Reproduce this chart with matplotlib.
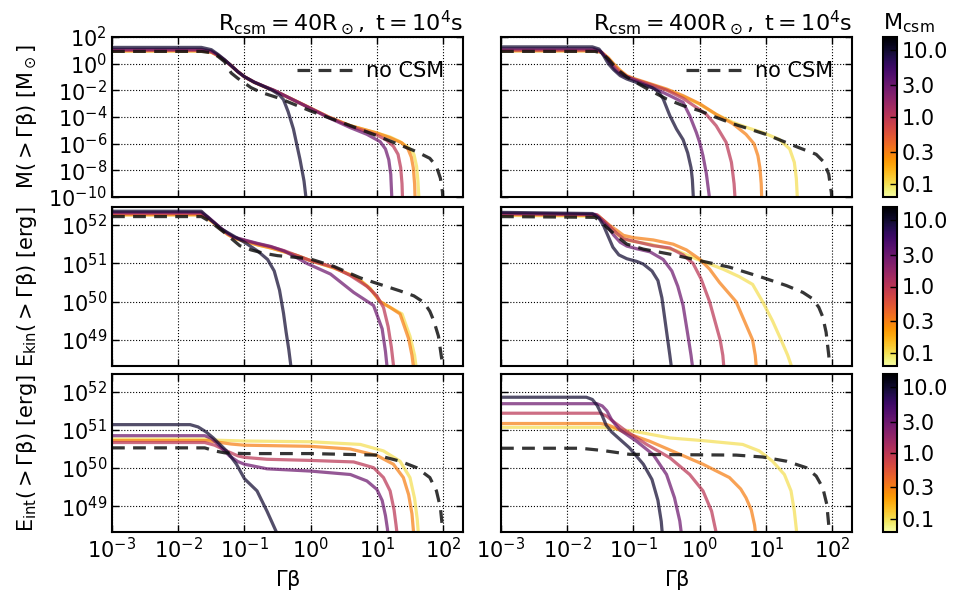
import numpy as np
import matplotlib
matplotlib.use('Agg')
import matplotlib.pyplot as plt
from matplotlib.colors import LogNorm
from matplotlib.cm import ScalarMappable
from matplotlib.ticker import NullLocator

plt.rcParams['font.family'] = ['DejaVu Sans']
plt.rcParams['mathtext.default'] = 'regular'
plt.rcParams['font.size'] = 15

# CSM masses (Msun), same order as the curve lists below
mcsm = [0.1, 0.3, 1.0, 3.0, 10.0]
cbar_ticks = [0.1, 0.3, 1.0, 3.0, 10.0]
cbar_labels = ['0.1', '0.3', '1.0', '3.0', '10.0']
x_ticks = [1e-3, 1e-2, 1e-1, 1e0, 1e1, 1e2]
m_ticks = [1e-10, 1e-8, 1e-6, 1e-4, 1e-2, 1e0, 1e2]
e_ticks = [1e49, 1e50, 1e51, 1e52]

titles = [r'$R_{csm}=40R_\odot,\ t=10^4s$', r'$R_{csm}=400R_\odot,\ t=10^4s$']
ylabels = [r'$M(>\Gamma\beta)\ [M_\odot]$', r'$E_{kin}(>\Gamma\beta)\ [erg]$',
           r'$E_{int}(>\Gamma\beta)\ [erg]$']

# all curves as (log10 Gamma*beta, log10 value)
# ---- M(>Gb), R = 40 Rsun
mass40_nocsm = [(-3, 0.92), (-1.65, 0.92), (-1.5, 0.82), (-1.4, 0.55), (-1.3, 0.15), (-1.2, -0.7),
                (-1.1, -1.1), (-1.0, -1.45), (-0.9, -1.8), (-0.75, -2.15), (-0.5, -2.55), (-0.25, -3.05),
                (0.0, -3.55), (0.27, -4.05), (0.6, -4.65), (1.0, -5.4), (1.35, -6.1), (1.6, -6.6),
                (1.8, -7.1), (1.9, -7.7), (1.96, -8.6), (1.99, -9.6), (2.0, -10.5)]
mass40 = [
    [(-3, 0.94), (-1.65, 0.94), (-1.5, 0.85), (-1.4, 0.6), (-1.3, 0.25), (-1.2, -0.15), (-1.1, -0.6),
     (-1.0, -0.98), (-0.85, -1.4), (-0.7, -1.72), (-0.55, -2.02), (-0.35, -2.5), (-0.1, -3.1),
     (0.27, -4.0), (0.6, -4.65), (1.0, -5.2), (1.2, -5.5), (1.35, -5.85), (1.48, -6.3), (1.56, -6.8),
     (1.6, -7.7), (1.62, -8.8), (1.64, -10.5)],
    [(-3, 0.96), (-1.65, 0.96), (-1.5, 0.86), (-1.4, 0.6), (-1.3, 0.25), (-1.2, -0.15), (-1.1, -0.6),
     (-1.0, -0.98), (-0.85, -1.4), (-0.7, -1.72), (-0.55, -2.02), (-0.35, -2.5), (-0.1, -3.1),
     (0.27, -4.0), (0.6, -4.65), (1.0, -5.2), (1.2, -5.55), (1.38, -5.95), (1.47, -6.4), (1.52, -7.0),
     (1.55, -7.8), (1.57, -9.0), (1.58, -10.5)],
    [(-3, 1.0), (-1.65, 1.0), (-1.5, 0.88), (-1.4, 0.62), (-1.3, 0.26), (-1.2, -0.15), (-1.1, -0.6),
     (-1.0, -0.98), (-0.85, -1.4), (-0.7, -1.72), (-0.55, -2.02), (-0.35, -2.5), (-0.1, -3.1),
     (0.27, -4.0), (0.6, -4.7), (1.0, -5.35), (1.15, -5.75), (1.25, -6.2), (1.32, -6.8), (1.36, -7.8),
     (1.38, -9.0), (1.39, -10.5)],
    [(-3, 1.08), (-1.65, 1.08), (-1.5, 0.95), (-1.4, 0.65), (-1.3, 0.27), (-1.2, -0.15), (-1.1, -0.6),
     (-1.0, -0.98), (-0.85, -1.38), (-0.7, -1.7), (-0.55, -2.0), (-0.35, -2.5), (-0.1, -3.12),
     (0.27, -4.05), (0.6, -4.8), (0.85, -5.3), (1.05, -5.85), (1.13, -6.4), (1.18, -7.2),
     (1.21, -8.3), (1.23, -10.5)],
    [(-3, 1.22), (-1.65, 1.22), (-1.5, 1.05), (-1.4, 0.7), (-1.3, 0.3), (-1.2, -0.15), (-1.1, -0.6),
     (-1.0, -0.98), (-0.85, -1.4), (-0.7, -1.72), (-0.58, -2.0), (-0.47, -2.35), (-0.41, -2.7),
     (-0.34, -3.6), (-0.26, -4.9), (-0.16, -7.2), (-0.1, -8.8), (-0.06, -10.5)],
]

# ---- M(>Gb), R = 400 Rsun
mass400_nocsm = [(-3, 0.92), (-1.58, 0.92), (-1.48, 0.8), (-1.38, 0.35), (-1.3, -0.1), (-1.2, -0.6),
                 (-1.1, -1.0), (-1.0, -1.3), (-0.75, -2.0), (-0.5, -2.65), (-0.25, -3.15), (0.0, -3.53),
                 (0.25, -4.03), (0.5, -4.5), (0.75, -4.9), (1.0, -5.3), (1.25, -5.8), (1.5, -6.3),
                 (1.76, -6.8), (1.88, -7.4), (1.95, -8.3), (1.99, -9.7), (2.0, -10.5)]
mass400 = [
    [(-3, 0.95), (-1.58, 0.95), (-1.48, 0.83), (-1.38, 0.4), (-1.3, -0.05), (-1.2, -0.55),
     (-1.1, -0.95), (-1.0, -1.15), (-0.75, -1.55), (-0.5, -1.95), (-0.25, -2.45), (0.0, -3.05),
     (0.25, -3.8), (0.5, -4.4), (0.75, -4.85), (0.95, -5.16), (1.2, -5.67), (1.36, -6.4),
     (1.43, -7.4), (1.46, -8.6), (1.48, -10.5)],
    [(-3, 0.97), (-1.58, 0.97), (-1.48, 0.85), (-1.38, 0.45), (-1.3, 0.0), (-1.2, -0.5),
     (-1.1, -0.9), (-1.0, -1.1), (-0.75, -1.5), (-0.5, -1.9), (-0.25, -2.4), (0.0, -3.0),
     (0.25, -3.8), (0.5, -4.5), (0.7, -5.3), (0.82, -6.0), (0.88, -6.9), (0.91, -7.8),
     (0.93, -9.0), (0.94, -10.5)],
    [(-3, 1.02), (-1.58, 1.02), (-1.48, 0.85), (-1.4, 0.45), (-1.32, -0.05), (-1.22, -0.55),
     (-1.1, -0.95), (-1.0, -1.15), (-0.75, -1.55), (-0.5, -1.98), (-0.25, -2.6), (0.0, -3.45),
     (0.1, -3.8), (0.25, -4.66), (0.4, -5.9), (0.48, -7.4), (0.52, -9.0), (0.54, -10.5)],
    [(-3, 1.12), (-1.6, 1.12), (-1.5, 0.95), (-1.42, 0.5), (-1.35, 0.0), (-1.27, -0.5),
     (-1.18, -0.85), (-1.08, -1.05), (-1.0, -1.2), (-0.8, -1.6), (-0.6, -2.05), (-0.45, -2.4),
     (-0.25, -2.9), (-0.15, -3.9), (-0.05, -5.16), (0.0, -5.9), (0.05, -6.9), (0.1, -8.2),
     (0.16, -10.5)],
    [(-3, 1.26), (-1.62, 1.26), (-1.52, 1.1), (-1.45, 0.6), (-1.38, 0.0), (-1.3, -0.45),
     (-1.2, -0.9), (-1.1, -1.15), (-1.0, -1.33), (-0.85, -1.6), (-0.72, -1.8), (-0.62, -2.1),
     (-0.55, -2.65), (-0.45, -3.9), (-0.35, -4.9), (-0.25, -5.7), (-0.18, -6.7), (-0.13, -7.8),
     (-0.11, -8.7), (-0.09, -10.5)],
]

# ---- E_kin(>Gb), R = 40 Rsun
ekin40_nocsm = [(-3, 52.22), (-1.65, 52.22), (-1.55, 52.12), (-1.45, 52.0), (-1.3, 51.8), (-1.2, 51.65),
                (-1.07, 51.46), (-0.9, 51.35), (-0.7, 51.26), (-0.5, 51.2), (-0.25, 51.16), (0.0, 51.11),
                (0.35, 50.92), (0.75, 50.62), (1.1, 50.42), (1.35, 50.28), (1.56, 50.15), (1.71, 49.98),
                (1.8, 49.75), (1.86, 49.5), (1.93, 49.1), (1.98, 48.5), (2.0, 48.2)]
ekin40 = [
    [(-3, 52.26), (-1.65, 52.26), (-1.55, 52.16), (-1.45, 52.03), (-1.35, 51.88), (-1.25, 51.75),
     (-1.15, 51.65), (-1.0, 51.58), (-0.8, 51.48), (-0.6, 51.4), (-0.4, 51.3), (-0.2, 51.2),
     (0.0, 51.07), (0.35, 50.88), (0.6, 50.7), (0.75, 50.56), (0.9, 50.35), (1.05, 50.0),
     (1.2, 49.85), (1.38, 49.68), (1.5, 49.1), (1.57, 48.6), (1.6, 48.2)],
    [(-3, 52.27), (-1.65, 52.27), (-1.55, 52.17), (-1.45, 52.04), (-1.35, 51.88), (-1.25, 51.75),
     (-1.15, 51.65), (-1.0, 51.58), (-0.8, 51.48), (-0.6, 51.4), (-0.4, 51.3), (-0.2, 51.2),
     (0.0, 51.07), (0.35, 50.88), (0.6, 50.7), (0.75, 50.55), (0.9, 50.33), (1.05, 50.0),
     (1.2, 49.85), (1.35, 49.68), (1.48, 49.03), (1.53, 48.6), (1.56, 48.2)],
    [(-3, 52.3), (-1.65, 52.3), (-1.55, 52.19), (-1.45, 52.05), (-1.35, 51.9), (-1.25, 51.77),
     (-1.15, 51.67), (-1.0, 51.6), (-0.8, 51.51), (-0.6, 51.43), (-0.4, 51.33), (-0.2, 51.2),
     (0.0, 51.07), (0.35, 50.9), (0.6, 50.68), (0.85, 50.4), (1.0, 50.15), (1.1, 49.85),
     (1.17, 49.35), (1.22, 48.8), (1.26, 48.2)],
    [(-3, 52.33), (-1.65, 52.33), (-1.55, 52.21), (-1.45, 52.06), (-1.35, 51.91), (-1.25, 51.78),
     (-1.15, 51.68), (-1.0, 51.61), (-0.8, 51.52), (-0.6, 51.44), (-0.4, 51.32), (-0.2, 51.14),
     (-0.06, 51.0), (0.3, 50.72), (0.65, 50.24), (0.95, 49.9), (1.08, 49.29), (1.13, 48.7),
     (1.16, 48.2)],
    [(-3, 52.36), (-1.65, 52.36), (-1.5, 52.12), (-1.35, 51.9), (-1.17, 51.72), (-1.0, 51.55),
     (-0.8, 51.32), (-0.65, 51.1), (-0.55, 50.8), (-0.47, 50.3), (-0.41, 49.7), (-0.37, 49.2),
     (-0.33, 48.75), (-0.29, 48.2)],
]

# ---- E_kin(>Gb), R = 400 Rsun
ekin400_nocsm = [(-3, 52.22), (-1.58, 52.2), (-1.48, 52.07), (-1.41, 51.95), (-1.26, 51.72), (-1.1, 51.5),
                 (-0.85, 51.37), (-0.45, 51.24), (0.0, 51.07), (0.45, 50.9), (0.95, 50.63), (1.31, 50.42),
                 (1.56, 50.24), (1.71, 50.07), (1.8, 49.85), (1.86, 49.6), (1.91, 49.2), (1.95, 48.6),
                 (1.97, 48.2)]
ekin400 = [
    [(-3, 52.25), (-1.52, 52.23), (-1.42, 52.05), (-1.32, 51.88), (-1.22, 51.72), (-1.06, 51.59),
     (-0.75, 51.5), (-0.35, 51.33), (0.0, 51.08), (0.35, 50.85), (0.6, 50.65), (0.8, 50.45),
     (0.95, 50.0), (1.1, 49.5), (1.23, 49.0), (1.33, 48.6), (1.41, 48.2)],
    [(-3, 52.27), (-1.55, 52.25), (-1.45, 52.12), (-1.35, 51.98), (-1.25, 51.86), (-1.15, 51.73),
     (-1.0, 51.67), (-0.7, 51.61), (-0.4, 51.5), (-0.2, 51.35), (0.0, 51.11), (0.15, 50.85),
     (0.3, 50.5), (0.55, 50.0), (0.7, 49.4), (0.8, 49.0), (0.84, 48.6), (0.86, 48.2)],
    [(-3, 52.29), (-1.55, 52.27), (-1.45, 52.12), (-1.35, 51.95), (-1.25, 51.78), (-1.15, 51.64),
     (-0.95, 51.56), (-0.7, 51.46), (-0.45, 51.4), (-0.25, 51.22), (-0.1, 51.0), (0.02, 50.6),
     (0.15, 50.0), (0.23, 49.5), (0.31, 49.0), (0.35, 48.6), (0.37, 48.2)],
    [(-3, 52.31), (-1.58, 52.28), (-1.48, 52.12), (-1.4, 51.98), (-1.3, 51.74), (-1.2, 51.55),
     (-1.1, 51.45), (-0.95, 51.38), (-0.75, 51.3), (-0.55, 51.1), (-0.42, 50.8), (-0.33, 50.4),
     (-0.25, 49.9), (-0.18, 49.15), (-0.13, 48.6), (-0.1, 48.2)],
    [(-3, 52.33), (-1.62, 52.3), (-1.52, 52.18), (-1.45, 51.98), (-1.38, 51.7), (-1.31, 51.42),
     (-1.22, 51.22), (-1.1, 51.12), (-0.95, 51.05), (-0.85, 50.98), (-0.72, 50.8), (-0.63, 50.55),
     (-0.57, 50.1), (-0.53, 49.6), (-0.49, 49.1), (-0.45, 48.6), (-0.42, 48.2)],
]

# ---- E_int(>Gb), R = 40 Rsun
eint40_nocsm = [(-3, 50.53), (-1.6, 50.53), (-1.45, 50.45), (-1.3, 50.4), (-1.0, 50.38), (0.0, 50.38),
                (1.0, 50.34), (1.35, 50.18), (1.6, 50.01), (1.8, 49.75), (1.9, 49.4), (1.96, 48.96),
                (1.99, 48.44), (2.0, 48.2)]
eint40 = [
    [(-3, 50.76), (-1.55, 50.76), (-1.4, 50.73), (-1.0, 50.71), (0.0, 50.69), (0.75, 50.62),
     (1.1, 50.45), (1.35, 50.18), (1.5, 49.75), (1.57, 49.2), (1.61, 48.65), (1.63, 48.2)],
    [(-3, 50.72), (-1.55, 50.72), (-1.4, 50.68), (-1.2, 50.63), (-1.0, 50.6), (0.0, 50.57),
     (0.6, 50.5), (1.0, 50.33), (1.25, 50.1), (1.4, 49.75), (1.48, 49.3), (1.53, 48.8),
     (1.55, 48.4), (1.56, 48.2)],
    [(-3, 50.67), (-1.6, 50.67), (-1.45, 50.6), (-1.27, 50.45), (-1.1, 50.32), (-1.0, 50.28),
     (-0.66, 50.23), (0.0, 50.2), (0.65, 50.16), (0.95, 50.01), (1.1, 49.75), (1.2, 49.4),
     (1.26, 48.9), (1.29, 48.5), (1.31, 48.2)],
    [(-3, 50.85), (-1.6, 50.85), (-1.5, 50.78), (-1.42, 50.66), (-1.32, 50.48), (-1.22, 50.31),
     (-1.1, 50.17), (-1.0, 50.1), (-0.66, 49.98), (0.0, 49.92), (0.6, 49.83), (0.85, 49.66),
     (1.0, 49.44), (1.08, 49.15), (1.13, 48.75), (1.16, 48.4), (1.17, 48.2)],
    [(-3, 51.14), (-1.82, 51.14), (-1.7, 51.08), (-1.58, 50.95), (-1.47, 50.79), (-1.37, 50.62),
     (-1.27, 50.45), (-1.12, 50.1), (-1.0, 49.72), (-0.81, 49.4), (-0.66, 48.87), (-0.52, 48.33),
     (-0.49, 48.15)],
]

# ---- E_int(>Gb), R = 400 Rsun
eint400_nocsm = [(-3, 50.52), (-1.8, 50.52), (-1.46, 50.46), (-1.06, 50.36), (0.55, 50.34), (0.95, 50.29),
                 (1.31, 50.18), (1.61, 50.01), (1.76, 49.79), (1.86, 49.48), (1.92, 49.05), (1.95, 48.5),
                 (1.96, 48.2)]
eint400 = [
    [(-3, 51.07), (-1.45, 51.07), (-1.21, 51.01), (-1.0, 50.97), (-0.45, 50.79), (0.05, 50.72),
     (0.65, 50.62), (0.9, 50.45), (1.1, 50.18), (1.28, 49.83), (1.38, 49.4), (1.43, 48.87),
     (1.46, 48.4), (1.47, 48.2)],
    [(-3, 51.17), (-1.5, 51.17), (-1.4, 51.14), (-1.31, 51.08), (-1.11, 50.92), (-0.75, 50.7),
     (-0.35, 50.4), (0.05, 50.1), (0.45, 49.75), (0.62, 49.45), (0.7, 49.22), (0.78, 48.9),
     (0.83, 48.5), (0.85, 48.2)],
    [(-3, 51.44), (-1.5, 51.44), (-1.4, 51.36), (-1.31, 51.23), (-1.11, 50.97), (-0.8, 50.62),
     (-0.45, 50.27), (-0.15, 49.83), (0.05, 49.4), (0.18, 48.87), (0.25, 48.3), (0.26, 48.2)],
    [(-3, 51.69), (-1.55, 51.69), (-1.47, 51.63), (-1.4, 51.5), (-1.33, 51.27), (-1.21, 51.01),
     (-0.95, 50.7), (-0.7, 50.35), (-0.5, 49.83), (-0.38, 49.22), (-0.3, 48.61), (-0.27, 48.2)],
    [(-3, 51.86), (-1.71, 51.86), (-1.62, 51.8), (-1.55, 51.65), (-1.48, 51.41), (-1.41, 51.12),
     (-1.33, 50.95), (-1.26, 50.84), (-1.06, 50.53), (-0.85, 50.1), (-0.72, 49.7), (-0.63, 49.15),
     (-0.58, 48.6), (-0.56, 48.2)],
]

panels = [
    [(mass40, mass40_nocsm), (mass400, mass400_nocsm)],
    [(ekin40, ekin40_nocsm), (ekin400, ekin400_nocsm)],
    [(eint40, eint40_nocsm), (eint400, eint400_nocsm)],
]

cmap = plt.get_cmap('inferno_r')
norm = LogNorm(vmin=10**-1.2, vmax=10**1.2)

W, H = 956, 603
fig = plt.figure(figsize=(W / 100, H / 100), dpi=100)

col_x = [112, 501]
col_w = 351
rows_px = [(37, 197), (207, 366), (374, 532)]

def draw(ax, curves, nocsm):
    for m, pts in zip(mcsm, curves):
        a = np.array(pts)
        ax.plot(10**a[:, 0], 10**a[:, 1], color=cmap(norm(m)), lw=2.3, alpha=0.72,
                solid_capstyle='butt')
    a = np.array(nocsm)
    ax.plot(10**a[:, 0], 10**a[:, 1], color='#111111', lw=2.3, alpha=0.85,
            dashes=(4, 2.6), label='no CSM')

for r, (top, bot) in enumerate(rows_px):
    for c in range(2):
        ax = fig.add_axes([col_x[c] / W, 1 - bot / H, col_w / W, (bot - top) / H])
        curves, nocsm = panels[r][c]
        draw(ax, curves, nocsm)
        ax.set_xscale('log')
        ax.set_yscale('log')
        ax.set_xlim(1e-3, 2e2)
        if r == 0:
            ax.set_ylim(1e-10, 1e2)
            ax.set_yticks(m_ticks)
            ax.set_title(titles[c], loc='right', pad=5, fontsize=16)
            ax.legend(loc='upper right', bbox_to_anchor=(1.0, 0.965), frameon=False,
                      handlelength=2.6, handletextpad=0.7, fontsize=15)
        else:
            ax.set_ylim(10**48.32, 10**52.47)
            ax.set_yticks(e_ticks)
        ax.set_xticks(x_ticks)
        ax.xaxis.set_minor_locator(NullLocator())
        ax.yaxis.set_minor_locator(NullLocator())
        ax.grid(True, ls=':', color='k', lw=0.8)
        ax.tick_params(direction='in', top=True, right=True, length=5, width=1)
        for s in ax.spines.values():
            s.set_linewidth(1.5)
        if r < 2:
            ax.set_xticklabels([])
        else:
            ax.set_xlabel(r'$\Gamma\beta$', labelpad=4)
        if c == 1:
            ax.set_yticklabels([])
        else:
            ax.set_ylabel(ylabels[r])
            ax.yaxis.set_label_coords(-0.207, 0.5)

    cax = fig.add_axes([883 / W, 1 - bot / H, 14 / W, (bot - top) / H])
    cb = fig.colorbar(ScalarMappable(norm=norm, cmap=cmap), cax=cax, ticks=cbar_ticks)
    cb.set_ticklabels(cbar_labels)
    cb.ax.yaxis.set_minor_locator(NullLocator())
    cb.ax.tick_params(direction='in', length=5, width=1)
    cb.outline.set_linewidth(1.5)

fig.text(883 / W, 1 - 23 / H, r'$M_{csm}$', ha='left', va='center', fontsize=16)

fig.savefig('out.png', dpi=100)
